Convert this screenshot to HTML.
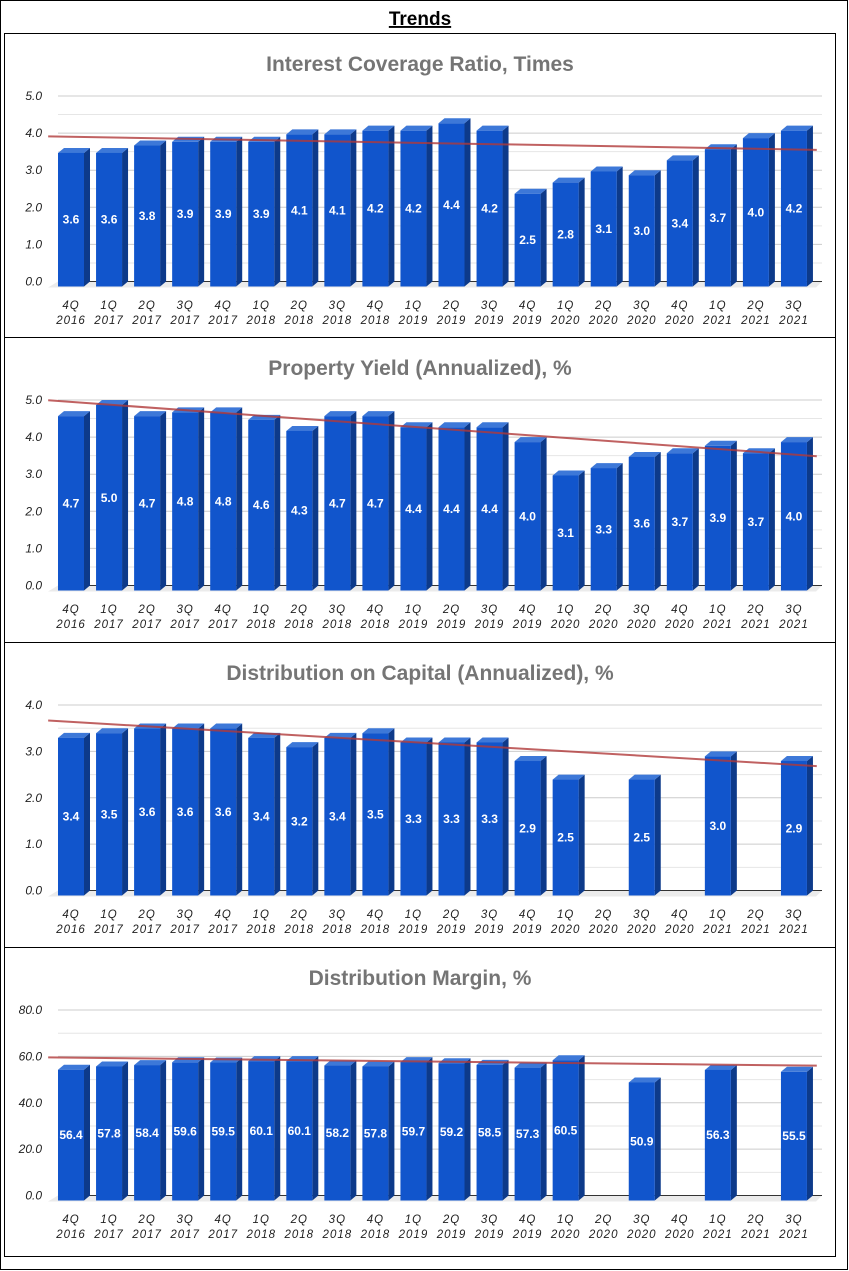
<!DOCTYPE html>
<html><head><meta charset="utf-8"><style>
html,body{margin:0;padding:0;background:#fff}
svg{display:block;font-family:"Liberation Sans",sans-serif}
</style></head><body>
<svg id="s" width="849" height="1271" viewBox="0 0 849 1271">
<rect x="0.5" y="0.5" width="847" height="1269" fill="#fff" stroke="#000"/>
<text x="420" y="25" text-anchor="middle" font-size="19" font-weight="bold" text-decoration="underline">Trends</text>
<rect x="4.5" y="33.5" width="831" height="1223" fill="none" stroke="#000"/>
</svg>
<script>
const categories=["4Q|2016","1Q|2017","2Q|2017","3Q|2017","4Q|2017","1Q|2018","2Q|2018","3Q|2018","4Q|2018","1Q|2019","2Q|2019","3Q|2019","4Q|2019","1Q|2020","2Q|2020","3Q|2020","4Q|2020","1Q|2021","2Q|2021","3Q|2021"];
const titles=["Interest Coverage Ratio, Times","Property Yield (Annualized), %","Distribution on Capital (Annualized), %","Distribution Margin, %"];
const icrValues=[3.6,3.6,3.8,3.9,3.9,3.9,4.1,4.1,4.2,4.2,4.4,4.2,2.5,2.8,3.1,3.0,3.4,3.7,4.0,4.2];
const yieldValues=[4.7,5.0,4.7,4.8,4.8,4.6,4.3,4.7,4.7,4.4,4.4,4.4,4.0,3.1,3.3,3.6,3.7,3.9,3.7,4.0];
const docValues=[3.4,3.5,3.6,3.6,3.6,3.4,3.2,3.4,3.5,3.3,3.3,3.3,2.9,2.5,null,2.5,null,3.0,null,2.9];
const marginValues=[56.4,57.8,58.4,59.6,59.5,60.1,60.1,58.2,57.8,59.7,59.2,58.5,57.3,60.5,null,50.9,null,56.3,null,55.5];
const axisMax=[5,5,4,80];
const axisStep=[1,1,1,20];
const series=[icrValues,yieldValues,docValues,marginValues];
const panelTops=[33,337,642,947];
const NS="http://www.w3.org/2000/svg";
const svg=document.getElementById('s');
function mk(tag,attrs,parent,text){const e=document.createElementNS(NS,tag);for(const k in attrs)e.setAttribute(k,attrs[k]);if(text!==undefined)e.textContent=text;(parent||svg).appendChild(e);return e;}
series.forEach((vals,p)=>{
  const P=panelTops[p], top=P+63, bot=P+248.5, max=axisMax[p], step=axisStep[p];
  const g=mk('g',{});
  
  
  if(p>0){const sep=mk('line',{x1:4,x2:835,y1:P+0.5,y2:P+0.5,stroke:'#000'},g);
    }
  const t=mk('text',{x:420,y:P+38,'text-anchor':'middle','font-size':21,'font-weight':'bold',fill:'#757575'},g,titles[p]);
  
  const y=v=>bot-(v/max)*(bot-top);
  const xc=i=>71+38.05*i;
  // gridlines
  for(let v=0;v<=max+1e-9;v+=step/2){
    const major=Math.abs(v/step-Math.round(v/step))<1e-6;
    const l=mk('line',{x1:58,x2:822,y1:y(v),y2:y(v),stroke:major?'#cccccc':'#e6e6e6','stroke-width':1},g);
    
    if(major){const tl=mk('text',{x:42,y:y(v)+4,'text-anchor':'end','font-size':12,'font-style':'italic',fill:'#222'},g,v.toFixed(1));
      }
  }
  const fl=mk('polygon',{points:`58,${bot} 822,${bot} 816,${bot+6} 48,${bot+6}`,fill:'#ebebeb'},g);
  
  const ax=mk('line',{x1:58,x2:822,y1:bot,y2:bot,stroke:'#333','stroke-width':1},g);
  
  // bars
  vals.forEach((v,i)=>{
    const c=xc(i);
    const parts=categories[i].split('|');
    const xl=mk('text',{x:c,y:P+276,'text-anchor':'middle','font-size':11.5,'font-style':'italic','letter-spacing':1,fill:'#222'},g);
    
    mk('tspan',{x:c,dy:0},xl,parts[0]);mk('tspan',{x:c,dy:15},xl,parts[1]);
    if(v==null)return;
    const bt=y(v), x0=c-13, x1=c+13, dx=6, dy=5;
    const bg=mk('g',{},g);
    
    
    mk('polygon',{points:`${x1},${bt+dy} ${x1+dx},${bt} ${x1+dx},${bot} ${x1},${bot+dy}`,fill:'#0d3a8a'},bg);
    mk('polygon',{points:`${x0},${bt+dy} ${x0+dx},${bt} ${x1+dx},${bt} ${x1},${bt+dy}`,fill:'#3d78d8'},bg);
    mk('rect',{x:x0,y:bt+dy,width:26,height:bot+dy-(bt+dy),fill:'#1155cc'},bg);
    mk('text',{x:c,y:(bt+dy+bot+dy)/2+4,'text-anchor':'middle','font-size':12,'font-weight':'bold',fill:'#fff'},bg,v.toFixed(1));
  });
  // trend line (least squares)
  let n=0,sx=0,sy=0,sxx=0,sxy=0;
  vals.forEach((v,i)=>{if(v!=null){n++;sx+=i;sy+=v;sxx+=i*i;sxy+=i*v;}});
  const b=(n*sxy-sx*sy)/(n*sxx-sx*sx), a=(sy-b*sx)/n;
  const i0=-0.6,i1=19.6;
  const tr=mk('line',{x1:xc(i0),y1:y(a+b*i0),x2:xc(i1),y2:y(a+b*i1),stroke:'#b03a3a','stroke-opacity':0.8,'stroke-width':2},g);
  
});
</script>
</body></html>
